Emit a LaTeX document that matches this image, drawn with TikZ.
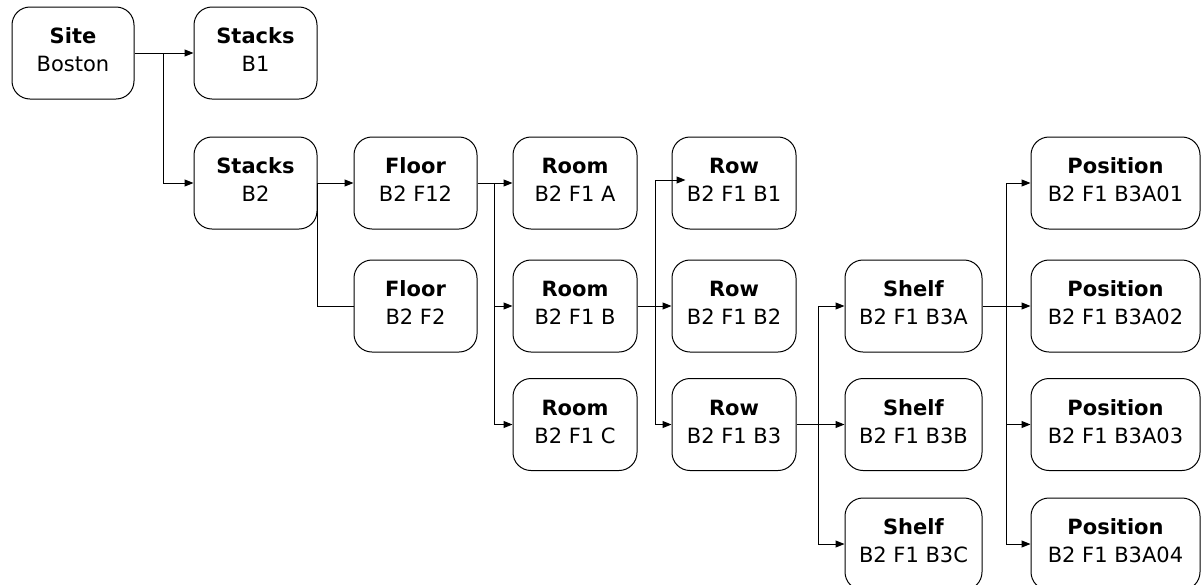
\documentclass[tikz,border=0pt]{standalone}
\usepackage{fontspec}
\setmainfont{DejaVu Sans}
\usetikzlibrary{arrows.meta}
\newcommand\boxtext[2]{\textbf{#1}\\#2\rule[-6pt]{0pt}{6pt}}
\begin{document}
\begin{tikzpicture}[x=1pt,y=-1pt,
  card/.style={draw, line width=1pt, rounded corners=18pt, minimum height=92pt,
    inner sep=0pt, align=center, font=\fontsize{21}{28}\selectfont},
  wa/.style={card, minimum width=123pt},
  ws/.style={card, minimum width=137pt},
  wp/.style={card, minimum width=169pt},
  conn/.style={line width=1pt},
  arr/.style={conn, -{Triangle[length=9pt,width=7pt]}}]
\useasboundingbox (0,0) rectangle (1202,584);
% nodes
\node[card, minimum width=122pt] (site) at (73,53) {\boxtext{Site}{Boston}};
\node[wa] (stacksA) at (255.5,53) {\boxtext{Stacks}{B1}};
\node[wa] (stacksB) at (255.5,183) {\boxtext{Stacks}{B2}};
\node[wa] (floorA) at (415.5,183) {\boxtext{Floor}{B2 F12}};
\node[wa] (floorB) at (415.5,306) {\boxtext{Floor}{B2 F2}};
\node[wa, minimum width=124pt] (roomA) at (575,183) {\boxtext{Room}{B2 F1 A}};
\node[wa, minimum width=124pt] (roomB) at (575,306) {\boxtext{Room}{B2 F1 B}};
\node[wa, minimum width=124pt] (roomC) at (575,424.5) {\boxtext{Room}{B2 F1 C}};
\node[wa, minimum width=124pt] (rowA) at (734,183) {\boxtext{Row}{B2 F1 B1}};
\node[wa, minimum width=124pt] (rowB) at (734,306) {\boxtext{Row}{B2 F1 B2}};
\node[wa, minimum width=124pt] (rowC) at (734,424.5) {\boxtext{Row}{B2 F1 B3}};
\node[ws] (shelfA) at (913.5,306) {\boxtext{Shelf}{B2 F1 B3A}};
\node[ws] (shelfB) at (913.5,424.5) {\boxtext{Shelf}{B2 F1 B3B}};
\node[ws] (shelfC) at (913.5,544) {\boxtext{Shelf}{B2 F1 B3C}};
\node[wp] (posA) at (1115.5,183) {\boxtext{Position}{B2 F1 B3A01}};
\node[wp] (posB) at (1115.5,306) {\boxtext{Position}{B2 F1 B3A02}};
\node[wp] (posC) at (1115.5,424.5) {\boxtext{Position}{B2 F1 B3A03}};
\node[wp] (posD) at (1115.5,544) {\boxtext{Position}{B2 F1 B3A04}};
% junctions
\coordinate (j1) at (163,53);
\coordinate (j3) at (494,183);
\coordinate (j4) at (655,306);
\coordinate (j5) at (818,424.5);
\coordinate (j6) at (1006,306);
% connectors
\draw[arr] (site.east) -- (stacksA.west);
\draw[arr] (j1) |- (stacksB.west);
\draw[arr] (stacksB.east) -- (floorA.west);
\draw[conn] (stacksB.east) |- (floorB.west);
\draw[arr] (floorA.east) -- (roomA.west);
\draw[arr] (j3) |- (roomB.west);
\draw[arr] (j3) |- (roomC.west);
\draw[conn] (roomB.east) -- (j4);
\draw[arr, shorten >=-14pt] (j4) |- ([yshift=3pt]rowA.west);
\draw[arr] (j4) -- (rowB.west);
\draw[arr] (j4) |- (rowC.west);
\draw[conn] (rowC.east) -- (j5);
\draw[arr] (j5) |- (shelfA.west);
\draw[arr] (j5) -- (shelfB.west);
\draw[arr] (j5) |- (shelfC.west);
\draw[conn] (shelfA.east) -- (j6);
\draw[arr] (j6) |- (posA.west);
\draw[arr] (j6) -- (posB.west);
\draw[arr] (j6) |- (posC.west);
\draw[arr] (j6) |- (posD.west);
\end{tikzpicture}
\end{document}
